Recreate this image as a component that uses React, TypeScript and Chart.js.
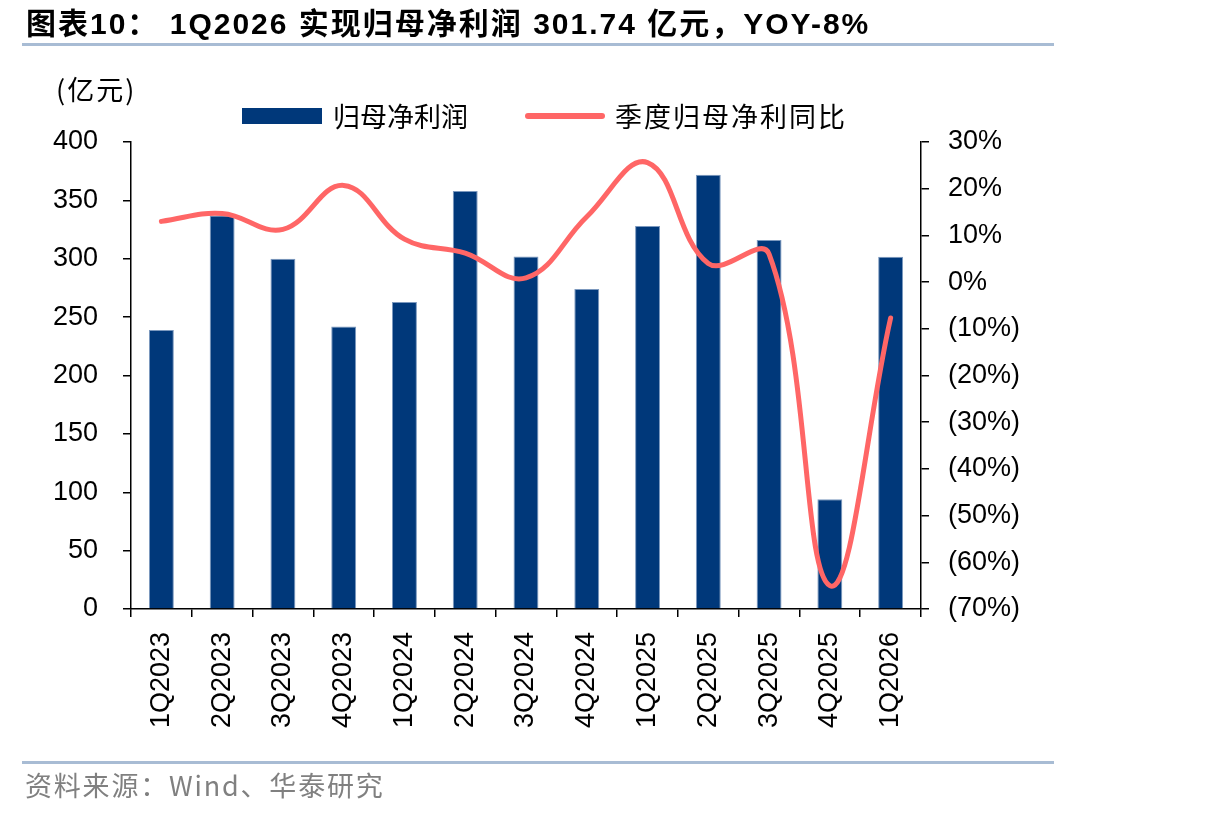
import React, { useEffect, useRef } from 'react';
import { Chart, registerables } from 'chart.js';

Chart.register(...registerables);

const categories = ['1Q2023', '2Q2023', '3Q2023', '4Q2023', '1Q2024', '2Q2024', '3Q2024', '4Q2024', '1Q2025', '2Q2025', '3Q2025', '4Q2025', '1Q2026'];
const netProfit = [239, 337, 300, 242, 263, 358, 302, 274, 328, 372, 316, 94, 301.74];
const yoyPct = [13.0, 14.7, 11.3, 20.7, 9.2, 6.2, 0.9, 14.0, 25.6, 4.0, 6.0, -65, -7.7];
const leftTickRange = [0, 400, 50];
const rightTickRange = [-70, 30, 10];

const titleText = '图表10： 1Q2026 实现归母净利润 301.74 亿元，YOY-8%';
const unitText = '(亿元)';
const legendBar = '归母净利润';
const legendLine = '季度归母净利同比';
const sourceText = '资料来源：Wind、华泰研究';

const BAR_COLOR = '#00387A';
const LINE_COLOR = '#FF6666';
const RULE_COLOR = '#A8BCD4';
const FONT = '"Liberation Sans", Arial, "Noto Sans CJK SC", sans-serif';
const CJK = '"Noto Sans CJK SC", "Liberation Sans", sans-serif';

const fmtPct = (v: number) => (v > 0 ? `${v}%` : v === 0 ? '0%' : `(${-v}%)`);

export default function App() {
  const ref = useRef<HTMLCanvasElement | null>(null);

  useEffect(() => {
    if (!ref.current) return;
    const tickFont = { family: FONT, size: 27 };
    const chart = new Chart(ref.current, {
      type: 'bar',
      data: {
        labels: categories,
        datasets: [
          {
            type: 'line',
            label: legendLine,
            data: yoyPct,
            yAxisID: 'y1',
            borderColor: LINE_COLOR,
            backgroundColor: LINE_COLOR,
            borderWidth: 5,
            pointRadius: 0,
            tension: 0.4,
            order: 0,
            borderCapStyle: 'round',
          } as any,
          {
            type: 'bar',
            label: legendBar,
            data: netProfit,
            yAxisID: 'y',
            backgroundColor: BAR_COLOR,
            borderColor: '#7B98BE',
            borderWidth: 1,
            barPercentage: 0.41,
            categoryPercentage: 1,
            order: 1,
          },
        ],
      },
      options: {
        responsive: false,
        animation: false,
        layout: { padding: { left: 0, right: 0, top: 142, bottom: 0 } },
        plugins: { legend: { display: false }, tooltip: { enabled: false }, title: { display: false } },
        scales: {
          x: {
            grid: { display: true, drawOnChartArea: false, drawTicks: true, tickLength: 8, color: '#000', offset: true, lineWidth: 1.5 },
            border: { display: true, color: '#000', width: 1.5 },
            ticks: { font: tickFont, color: '#000', maxRotation: 90, minRotation: 90, autoSkip: false, padding: 15 },
            afterFit: (s: any) => { s.height = 816 - 609; },
          },
          y: {
            position: 'left',
            min: leftTickRange[0],
            max: leftTickRange[1],
            grid: { display: true, drawOnChartArea: false, drawTicks: true, tickLength: 8, color: '#000', lineWidth: 1.5 },
            border: { display: true, color: '#000', width: 1.5 },
            ticks: { stepSize: leftTickRange[2], font: tickFont, color: '#000', padding: 25 },
            afterFit: (s: any) => { s.width = 131; },
          },
          y1: {
            position: 'right',
            min: rightTickRange[0],
            max: rightTickRange[1],
            grid: { display: true, drawOnChartArea: false, drawTicks: true, tickLength: 8, color: '#000', lineWidth: 1.5 },
            border: { display: true, color: '#000', width: 1.5 },
            ticks: { stepSize: rightTickRange[2], font: tickFont, color: '#000', padding: 19, callback: (v: any) => fmtPct(Number(v)) },
            afterFit: (s: any) => { s.width = 1206 - 921; },
          },
        },
      } as any,
    });
    return () => chart.destroy();
  }, []);

  const abs = (o: React.CSSProperties): React.CSSProperties => ({ position: 'absolute', whiteSpace: 'pre', ...o });

  return (
    <div style={{ position: 'fixed', left: 0, top: 0, width: 1206, height: 816, background: '#fff', overflow: 'hidden' }}>
      <canvas ref={ref} width={1206} height={816} style={{ position: 'absolute', left: 0, top: 0, width: 1206, height: 816 }} />
      <div style={abs({ left: 26, top: 7, fontFamily: FONT, fontWeight: 'bold', fontSize: 30, lineHeight: '34px', letterSpacing: 2, color: '#000' })}>{titleText}</div>
      <div style={abs({ left: 22, top: 43, width: 1032, height: 3, background: RULE_COLOR })} />
      <div style={abs({ left: 56, top: 74, fontFamily: CJK, fontSize: 27, lineHeight: '30px', letterSpacing: 2, color: '#000' })}>{unitText}</div>
      <div style={abs({ left: 242, top: 108, width: 80, height: 16, background: BAR_COLOR })} />
      <div style={abs({ left: 333, top: 100, fontFamily: CJK, fontSize: 27, lineHeight: '32px', color: '#000' })}>{legendBar}</div>
      <div style={abs({ left: 525, top: 113, width: 80, height: 6, borderRadius: 3, background: LINE_COLOR })} />
      <div style={abs({ left: 615, top: 100, fontFamily: CJK, fontSize: 27, lineHeight: '32px', letterSpacing: 2, color: '#000' })}>{legendLine}</div>
      <div style={abs({ left: 22, top: 761, width: 1032, height: 3, background: RULE_COLOR })} />
      <div style={abs({ left: 25, top: 769, fontFamily: CJK, fontSize: 27, lineHeight: '32px', letterSpacing: 1.8, color: '#808080' })}>{sourceText}</div>
    </div>
  );
}
